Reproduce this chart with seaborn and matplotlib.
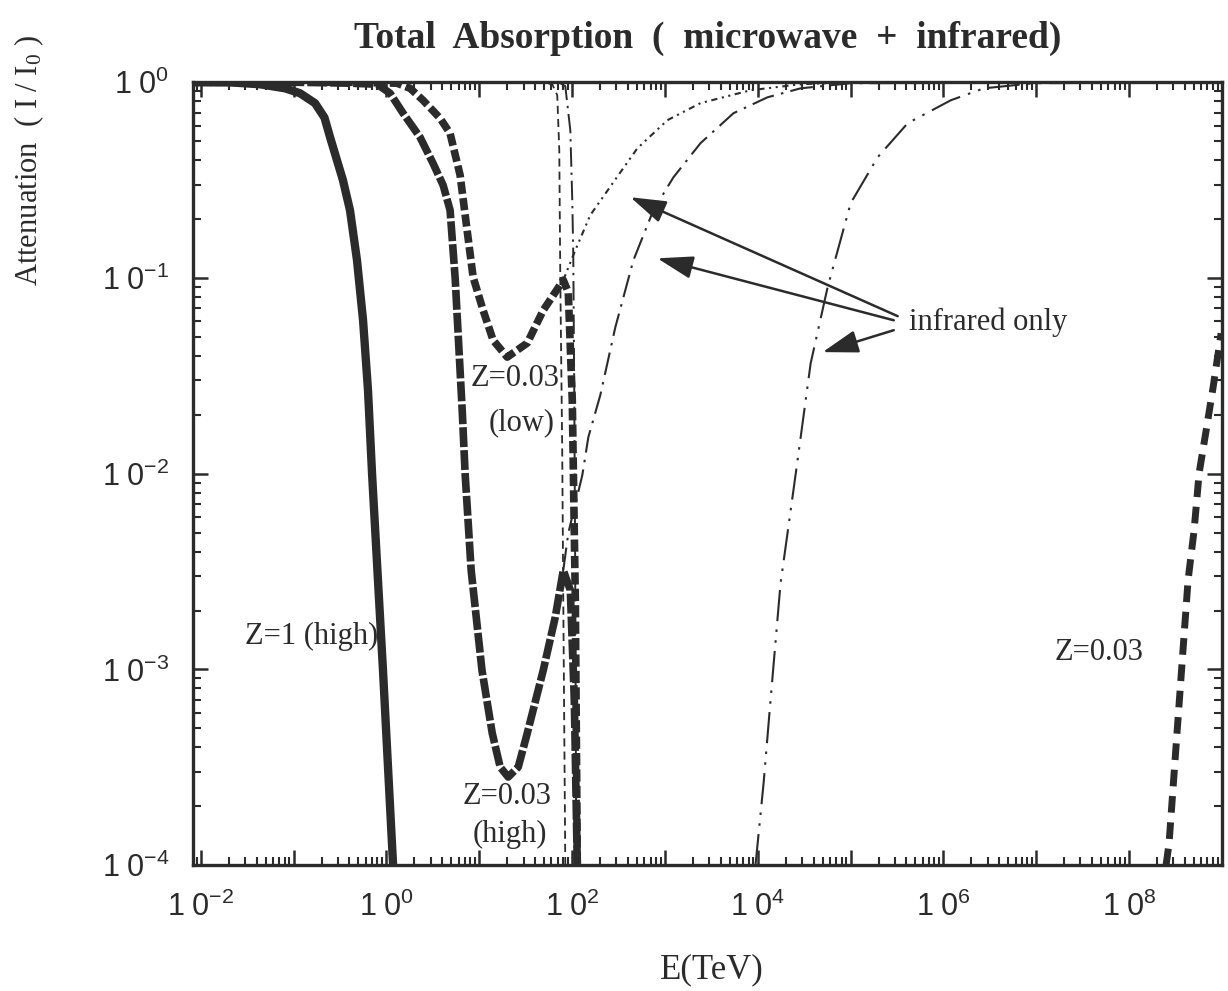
import numpy as np
import matplotlib
matplotlib.use("Agg")
import matplotlib.pyplot as plt
import seaborn as sns
from matplotlib.ticker import FixedLocator, LogLocator, FuncFormatter, NullFormatter

# ---------------- data ----------------
# Z=1 (high), total absorption
E_z1_high = [0.0082, 0.021, 0.043, 0.081, 0.117, 0.17, 0.215, 0.247, 0.34, 0.405, 0.482, 0.560,
             0.633, 0.70, 0.918, 1.18]
A_z1_high = [1.0, 0.998, 0.977, 0.931, 0.879, 0.782, 0.66, 0.524, 0.316, 0.222, 0.123, 0.0608,
             0.0267, 0.0100, 0.00099, 0.0001]

# Z=0.03 (high), total absorption
E_z03_high = [0.0082, 0.117, 0.405, 0.793, 1.094, 1.51, 2.30, 3.18, 4.08, 4.85, 5.50, 6.55, 7.05,
              8.18, 10.7, 13.8, 16.8, 20.5, 26.3, 32.9, 48.9, 65.9, 80.4, 95.7, 105.7, 113.8]
A_z03_high = [1.0, 1.0, 0.989, 0.977, 0.879, 0.695, 0.524, 0.385, 0.298, 0.222, 0.0998, 0.0211, 0.00993,
              0.00321, 0.00099, 0.000472, 0.000317, 0.000282, 0.000317, 0.000472, 0.00099, 0.00185,
              0.00321, 0.00254, 0.000697, 0.0001]

# Z=0.03 (low), total absorption
E_z03_low = [0.0082, 0.405, 1.30, 1.80, 2.48, 3.78, 4.85, 6.22, 7.40, 8.59, 11.0, 14.1, 20.0, 32.9,
             48.9, 80.4, 91.0, 100.5, 108.4, 113.8]
A_z03_low = [1.0, 1.0, 0.989, 0.931, 0.809, 0.655, 0.548, 0.335, 0.175, 0.101, 0.0684, 0.0481, 0.0394,
             0.0465, 0.0684, 0.0975, 0.0846, 0.0237, 0.00226, 0.0001]

# microwave cut-off curves near 100 TeV
E_mw_a = [0.0082, 45.4, 61.1, 69.2, 72.8, 74.6, 78.3, 80.4, 84.5]
A_mw_a = [1.0, 1.0, 0.977, 0.859, 0.45, 0.103, 0.0132, 0.00226, 0.0001]
E_mw_b = [0.0082, 51.4, 74.6, 84.5, 95.7, 100.5, 103.0, 105.7, 108.4, 110.9]
A_mw_b = [1.0, 1.0, 0.989, 0.955, 0.569, 0.249, 0.131, 0.0237, 0.00226, 0.0001]

# infrared only curves
E_ir_low = [80.4, 108.4, 157.0, 278, 505, 1064, 2415, 8356, 28973, 100231, 1e9]
A_ir_low = [0.0975, 0.1387, 0.2094, 0.308, 0.460, 0.640, 0.782, 0.910, 0.977, 1.0, 1.0]
E_ir_high = [80.4, 91.0, 128.8, 149.6, 201.4, 292.4, 457.1, 751.6, 1236, 2415, 5483, 12763, 28973,
             100231, 1e9]
A_ir_high = [0.00321, 0.00497, 0.00982, 0.01535, 0.0252, 0.056, 0.123, 0.222, 0.327, 0.488, 0.695,
             0.838, 0.931, 0.989, 1.0]
E_ir_z1 = [9462, 11560, 13740, 17620, 20940, 26850, 37150, 56620, 100200, 195900, 413000, 1.202e6,
           2.729e6, 9.44e6, 1e9]
A_ir_z1 = [1e-4, 2.62e-4, 6.97e-4, 2.76e-3, 4.97e-3, 1.17e-2, 3.66e-2, 8.97e-2, 0.241, 0.414, 0.618,
           0.809, 0.931, 0.989, 1.0]

# Z=0.03, ultra high energy recovery
E_z03_uhe = [2.506e8, 2.698e8, 3.381e8, 4.325e8, 5.023e8, 5.689e8, 6.776e8, 8.054e8, 9.817e8]
A_z03_uhe = [1e-4, 1.29e-4, 5.70e-4, 2.86e-3, 5.14e-3, 1.007e-2, 1.667e-2, 2.77e-2, 5.22e-2]

x_decades = list(range(-2, 10))
x_label_decades = [-2, 0, 2, 4, 6, 8]
y_decades = [-4, -3, -2, -1, 0]

# ---------------- style ----------------
sns.set_theme(style="ticks")
plt.rcParams["font.family"] = ["Liberation Serif", "DejaVu Serif"]
plt.rcParams["mathtext.fontset"] = "custom"
plt.rcParams["mathtext.rm"] = "Liberation Serif"
plt.rcParams["mathtext.sf"] = "Liberation Sans"
plt.rcParams["mathtext.it"] = "Liberation Serif:italic"
plt.rcParams["mathtext.bf"] = "Liberation Serif:bold"

INK = "#2b2b2b"

fig = plt.figure(figsize=(12.28, 9.91), dpi=100)
fig.patch.set_facecolor("white")
ax = fig.add_axes([0.157, 0.127, 0.838, 0.790])
ax.set_facecolor("white")
ax.set_xscale("log")
ax.set_yscale("log")


def draw(E, A, lw, ls, z=3):
    sns.lineplot(x=E, y=A, ax=ax, color=INK, linewidth=lw, estimator=None, sort=False,
                 legend=False, zorder=z)
    line = ax.lines[-1]
    line.set_linestyle(ls)
    line.set_solid_capstyle("butt")
    line.set_dash_capstyle("butt")
    line.set_solid_joinstyle("round")
    return line


draw(E_mw_a, A_mw_a, 1.3, (0, (4.5, 2.8)), z=2)
draw(E_mw_b, A_mw_b, 1.4, (0, (10, 3, 1.2, 3)), z=2)
draw(E_ir_low, A_ir_low, 1.5, (0, (3, 2.2, 1, 2.2, 1, 2.2)), z=2)
draw(E_ir_high, A_ir_high, 1.5, (0, (11, 3.5, 1.2, 3.5)), z=2)
draw(E_ir_z1, A_ir_z1, 1.5, (0, (15, 4, 1.2, 4, 1.2, 4)), z=2)
draw(E_z1_high, A_z1_high, 6.0, "-", z=4)
draw(E_z03_high, A_z03_high, 5.5, (0, (2.6, 0.4)), z=4)
draw(E_z03_low, A_z03_low, 5.5, (0, (1.6, 0.55)), z=4)
draw(E_z03_uhe, A_z03_uhe, 5.0, (0, (2.4, 1.4)), z=4)

ax.set_xlim(10 ** -2.086, 1e9)
ax.set_ylim(1e-4, 1.0)

# ---------------- ticks ----------------
def fmt_x(v, pos):
    e = int(round(np.log10(v)))
    if e in x_label_decades:
        return r"$\mathsf{1\ 0^{%d}}$" % e
    return ""


def fmt_y(v, pos):
    e = int(round(np.log10(v)))
    return r"$\mathsf{1\ 0^{%d}}$" % e


ax.xaxis.set_major_locator(FixedLocator([10.0 ** d for d in x_decades]))
ax.xaxis.set_major_formatter(FuncFormatter(fmt_x))
ax.xaxis.set_minor_locator(LogLocator(base=10, subs=np.arange(2, 10), numticks=100))
ax.xaxis.set_minor_formatter(NullFormatter())
ax.yaxis.set_major_locator(FixedLocator([10.0 ** d for d in y_decades]))
ax.yaxis.set_major_formatter(FuncFormatter(fmt_y))
ax.yaxis.set_minor_locator(LogLocator(base=10, subs=np.arange(2, 10), numticks=100))
ax.yaxis.set_minor_formatter(NullFormatter())

ax.tick_params(which="major", direction="in", length=11, width=1.8, top=True, right=True,
               labelsize=22, colors=INK)
ax.tick_params(axis="x", which="major", pad=19)
ax.tick_params(axis="y", which="major", pad=17)
ax.tick_params(which="minor", direction="in", length=5.5, width=1.5, top=True, right=True, colors=INK)
for sp in ax.spines.values():
    sp.set_linewidth(2.4)
    sp.set_color(INK)
    sp.set_zorder(5)

# ---------------- text ----------------
ax.set_title("Total  Absorption  (  microwave  +  infrared)", fontsize=27, fontweight="bold",
             color=INK, pad=25)
ax.set_xlabel("E(TeV)", fontsize=25, color=INK)
ax.xaxis.set_label_coords(0.504, -0.112)
ax.set_ylabel("Attenuation  ( I / I$_0$ )", fontsize=22, color=INK)
ax.yaxis.set_label_coords(-0.143, 0.90)

TFS = 22
ax.text(0.157, 1.48e-3, "Z=1 (high)", fontsize=TFS, ha="center", va="center", color=INK, zorder=6)
ax.text(24.4, 0.0308, "Z=0.03", fontsize=TFS, ha="center", va="center", color=INK, zorder=6)
ax.text(28.3, 0.0183, "(low)", fontsize=TFS, ha="center", va="center", color=INK, zorder=6)
ax.text(20.0, 2.25e-4, "Z=0.03", fontsize=TFS, ha="center", va="center", color=INK, zorder=6)
ax.text(21.5, 1.44e-4, "(high)", fontsize=TFS, ha="center", va="center", color=INK, zorder=6)
ax.text(4.74e7, 1.225e-3, "Z=0.03", fontsize=TFS, ha="center", va="center", color=INK, zorder=6)
ax.text(4.24e5, 0.0594, "infrared only", fontsize=TFS, ha="left", va="center", color=INK, zorder=6)

arrow_kw = dict(arrowstyle="-|>,head_length=1.1,head_width=0.35", lw=1.8, color=INK,
                shrinkA=0, shrinkB=0, mutation_scale=20)
ax.annotate("", xy=(425, 0.2586), xytext=(3.22e5, 0.0638), arrowprops=arrow_kw, zorder=6)
ax.annotate("", xy=(830, 0.126), xytext=(2.92e5, 0.0608), arrowprops=arrow_kw, zorder=6)
ax.annotate("", xy=(5.0e4, 0.0418), xytext=(2.92e5, 0.0541), arrowprops=arrow_kw, zorder=6)

fig.savefig("out.png", dpi=100, facecolor="white")
